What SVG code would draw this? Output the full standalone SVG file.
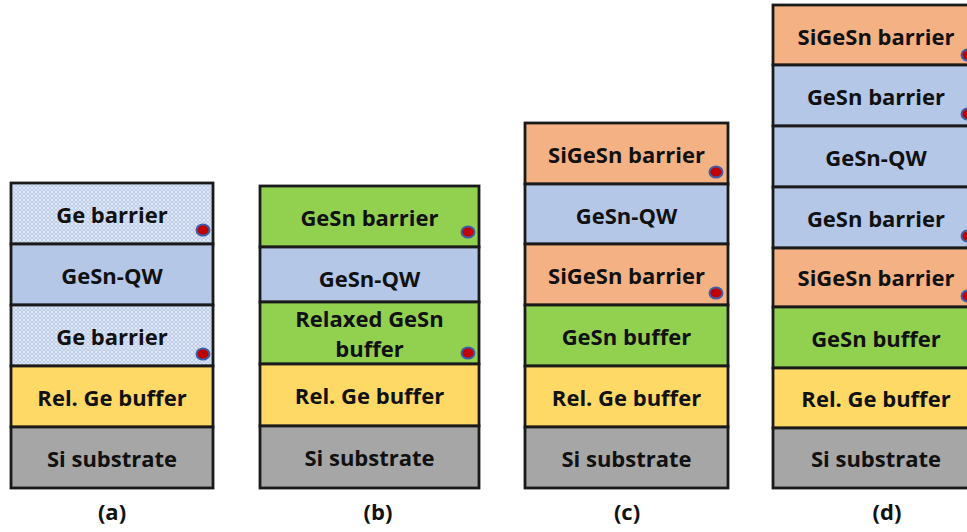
<svg xmlns="http://www.w3.org/2000/svg" width="967" height="532" viewBox="0 0 967 532">
<style>
.l{stroke:#1a1a1a;stroke-width:2.8}
.t{font-family:"Open Sans","Liberation Sans",sans-serif;font-weight:bold;font-size:22px;fill:#111;text-anchor:middle}
.cap{font-family:"Open Sans","Liberation Sans",sans-serif;font-weight:bold;font-size:22px;fill:#111;text-anchor:middle}
.ge{fill:url(#dots)}
.qw{fill:#b4c7e7}
.gr{fill:#92d050}
.or{fill:#f4b183}
.ye{fill:#ffd966}
.si{fill:#a6a6a6}
.dot{fill:#c00000;stroke:#3e5ea8;stroke-width:2}
</style>
<defs>
<pattern id="dots" width="4" height="4" patternUnits="userSpaceOnUse">
<rect width="4" height="4" fill="#bfcfeb"/>
<circle cx="0" cy="0" r="1" fill="#eef3fb"/>
<circle cx="4" cy="0" r="1" fill="#eef3fb"/>
<circle cx="0" cy="4" r="1" fill="#eef3fb"/>
<circle cx="4" cy="4" r="1" fill="#eef3fb"/>
<circle cx="2" cy="2" r="0.9" fill="#dfe7f5"/>
</pattern>
</defs>
<rect width="967" height="532" fill="#fff"/>

<g id="stack-a">
<g id="a-ge-barrier-top"><rect class="l ge" x="11" y="183" width="202" height="61"/><text class="t" x="112" y="223">Ge barrier</text><ellipse class="dot" cx="203" cy="230" rx="6.5" ry="5.5"/></g>
<g id="a-gesn-qw"><rect class="l qw" x="11" y="244" width="202" height="61"/><text class="t" x="112" y="284">GeSn-QW</text></g>
<g id="a-ge-barrier-bottom"><rect class="l ge" x="11" y="305" width="202" height="61"/><text class="t" x="112" y="345">Ge barrier</text><ellipse class="dot" cx="203" cy="354" rx="6.5" ry="5.5"/></g>
<g id="a-rel-ge-buffer"><rect class="l ye" x="11" y="366" width="202" height="61"/><text class="t" x="112" y="406">Rel. Ge buffer</text></g>
<g id="a-si-substrate"><rect class="l si" x="11" y="427" width="202" height="61"/><text class="t" x="112" y="467">Si substrate</text></g>
<text class="cap" x="112" y="520">(a)</text>
</g>

<g id="stack-b">
<g id="b-gesn-barrier"><rect class="l gr" x="260" y="186" width="219" height="61"/><text class="t" x="369.5" y="226">GeSn barrier</text><ellipse class="dot" cx="468" cy="232" rx="6.5" ry="5.5"/></g>
<g id="b-gesn-qw"><rect class="l qw" x="260" y="247" width="219" height="55"/><text class="t" x="369.5" y="286.5">GeSn-QW</text></g>
<g id="b-relaxed-gesn-buffer"><rect class="l gr" x="260" y="302" width="219" height="62"/><text class="t" x="369.5" y="327">Relaxed GeSn</text><text class="t" x="369.5" y="357">buffer</text><ellipse class="dot" cx="468" cy="353" rx="6.5" ry="5.5"/></g>
<g id="b-rel-ge-buffer"><rect class="l ye" x="260" y="364" width="219" height="62"/><text class="t" x="369.5" y="404">Rel. Ge buffer</text></g>
<g id="b-si-substrate"><rect class="l si" x="260" y="426" width="219" height="62"/><text class="t" x="369.5" y="466">Si substrate</text></g>
<text class="cap" x="378" y="520">(b)</text>
</g>

<g id="stack-c">
<g id="c-sigesn-barrier-top"><rect class="l or" x="525" y="123" width="203" height="61"/><text class="t" x="626.5" y="163">SiGeSn barrier</text><ellipse class="dot" cx="716" cy="172" rx="6.5" ry="5.5"/></g>
<g id="c-gesn-qw"><rect class="l qw" x="525" y="184" width="203" height="60"/><text class="t" x="626.5" y="223.5">GeSn-QW</text></g>
<g id="c-sigesn-barrier-bottom"><rect class="l or" x="525" y="244" width="203" height="61"/><text class="t" x="626.5" y="284">SiGeSn barrier</text><ellipse class="dot" cx="716" cy="293" rx="6.5" ry="5.5"/></g>
<g id="c-gesn-buffer"><rect class="l gr" x="525" y="305" width="203" height="61"/><text class="t" x="626.5" y="345">GeSn buffer</text></g>
<g id="c-rel-ge-buffer"><rect class="l ye" x="525" y="366" width="203" height="61"/><text class="t" x="626.5" y="406">Rel. Ge buffer</text></g>
<g id="c-si-substrate"><rect class="l si" x="525" y="427" width="203" height="61"/><text class="t" x="626.5" y="467">Si substrate</text></g>
<text class="cap" x="627" y="520">(c)</text>
</g>

<g id="stack-d">
<g id="d-sigesn-barrier-top"><rect class="l or" x="773" y="5" width="206" height="60"/><text class="t" x="876" y="44.5">SiGeSn barrier</text><ellipse class="dot" cx="968" cy="55" rx="6.5" ry="5.5"/></g>
<g id="d-gesn-barrier-top"><rect class="l qw" x="773" y="65" width="206" height="61"/><text class="t" x="876" y="105">GeSn barrier</text><ellipse class="dot" cx="968" cy="114" rx="6.5" ry="5.5"/></g>
<g id="d-gesn-qw"><rect class="l qw" x="773" y="126" width="206" height="61"/><text class="t" x="876" y="166">GeSn-QW</text></g>
<g id="d-gesn-barrier-bottom"><rect class="l qw" x="773" y="187" width="206" height="61"/><text class="t" x="876" y="227">GeSn barrier</text><ellipse class="dot" cx="968" cy="236" rx="6.5" ry="5.5"/></g>
<g id="d-sigesn-barrier-bottom"><rect class="l or" x="773" y="248" width="206" height="59"/><text class="t" x="876" y="286">SiGeSn barrier</text><ellipse class="dot" cx="968" cy="296" rx="6.5" ry="5.5"/></g>
<g id="d-gesn-buffer"><rect class="l gr" x="773" y="307" width="206" height="61"/><text class="t" x="876" y="347">GeSn buffer</text></g>
<g id="d-rel-ge-buffer"><rect class="l ye" x="773" y="368" width="206" height="60"/><text class="t" x="876" y="407">Rel. Ge buffer</text></g>
<g id="d-si-substrate"><rect class="l si" x="773" y="428" width="206" height="60"/><text class="t" x="876" y="467">Si substrate</text></g>
<text class="cap" x="887" y="520">(d)</text>
</g>
</svg>
